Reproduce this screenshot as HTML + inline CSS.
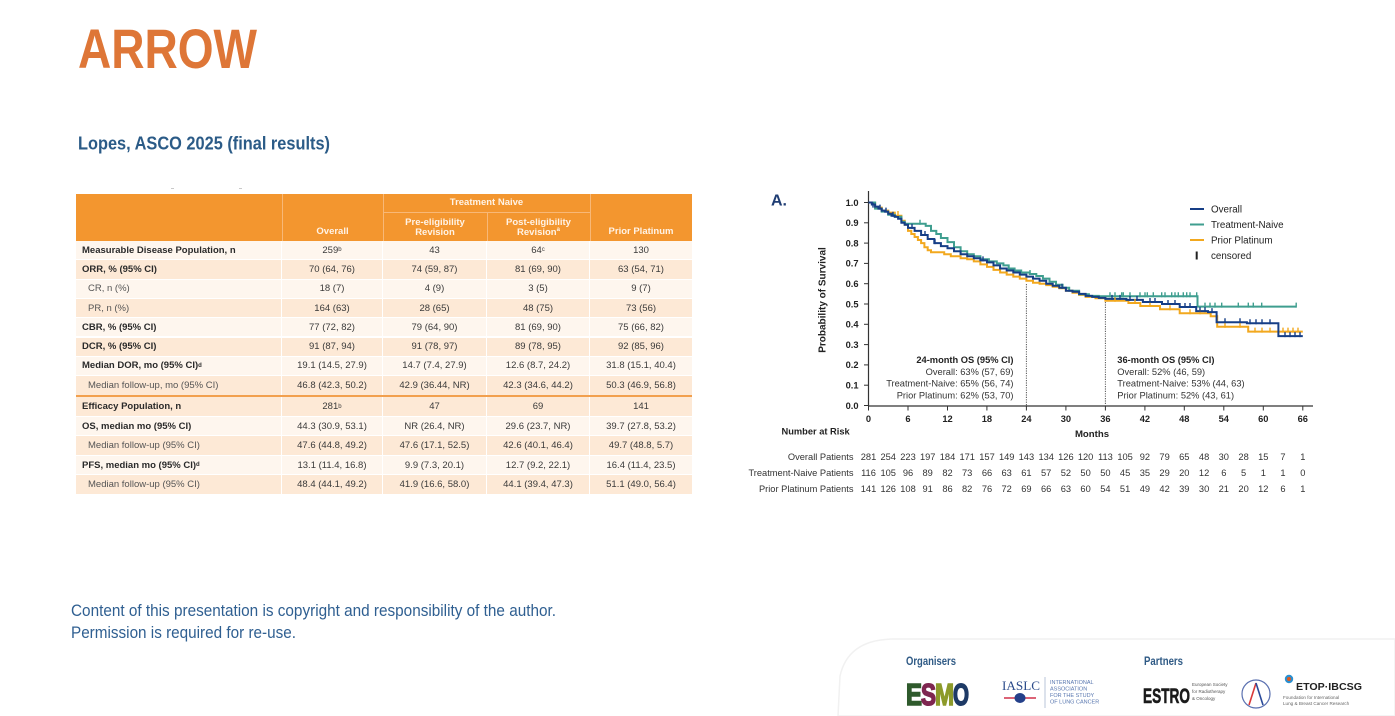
<!DOCTYPE html>
<html>
<head>
<meta charset="utf-8">
<style>
  html,body{margin:0;padding:0;background:#ffffff;}
  body{width:1395px;height:716px;position:relative;overflow:hidden;font-family:"Liberation Sans",Arial,sans-serif;}
  svg.page{position:absolute;left:0;top:0;}
  .tbl{position:absolute;left:76px;top:194px;width:616px;font-family:"Liberation Sans",Arial,sans-serif;font-size:9.5px;color:#3a3a3a;}
  .hdr{position:absolute;left:0;top:0;width:616px;height:47px;background:#f3962f;}
  .hv{position:absolute;width:1px;background:#f8b877;}
  .ht{position:absolute;color:#fff3e6;font-weight:bold;text-align:center;line-height:10px;font-size:9.5px;}
  .row{position:absolute;left:0;width:616px;display:flex;align-items:center;box-sizing:border-box;border-bottom:1px solid #ffffff;}
  .row div{height:100%;display:flex;align-items:center;justify-content:center;box-sizing:border-box;border-right:1px solid #ffffff;white-space:nowrap;}
  .row div.c0{justify-content:flex-start;padding-left:6px;width:206px;}
  .row div.c0.ind{padding-left:12px;color:#555;}
  .row div.b{font-weight:bold;color:#2a2a2a;}
  .c1{width:101px;}.c2{width:104px;}.c3{width:103px;}.c4{width:102px;border-right:none !important;}
  .lt{background:#fef6ee;}
  .pk{background:#fde9d6;}
  sup{font-size:6px;line-height:0;vertical-align:4px;}
</style>
</head>
<body>

<svg class="page" width="1395" height="716" viewBox="0 0 1395 716" xmlns="http://www.w3.org/2000/svg" font-family="Liberation Sans, Arial, sans-serif">
  <!-- Titles -->
  <text x="78" y="68" font-size="56" font-weight="bold" fill="#de7637" textLength="179" lengthAdjust="spacingAndGlyphs">ARROW</text>
  <text x="78" y="149.3" font-size="18" font-weight="bold" fill="#2b5b87" textLength="252" lengthAdjust="spacingAndGlyphs">Lopes, ASCO 2025 (final results)</text>

  <!-- faint marks above table -->
  <line x1="171" y1="188.5" x2="174" y2="188.5" stroke="#bbb" stroke-width="0.8"/>
  <line x1="239" y1="188.5" x2="242" y2="188.5" stroke="#bbb" stroke-width="0.8"/>

  <!-- Footer copyright -->
  <text x="71" y="616" font-size="17" fill="#2f5f91" textLength="485" lengthAdjust="spacingAndGlyphs">Content of this presentation is copyright and responsibility of the author.</text>
  <text x="71" y="638" font-size="17" fill="#2f5f91" textLength="225" lengthAdjust="spacingAndGlyphs">Permission is required for re-use.</text>

  <!-- ===== KM chart ===== -->
  <text x="771" y="205.5" font-size="16" font-weight="bold" fill="#1f3d73">A.</text>

  <text transform="translate(825.5 300) rotate(-90)" text-anchor="middle" font-size="10" font-weight="bold" fill="#222">Probability of Survival</text>

  <line x1="868.5" y1="191" x2="868.5" y2="406" stroke="#333" stroke-width="1.2"/>
  <line x1="868" y1="406" x2="1313" y2="406" stroke="#333" stroke-width="1.2"/>

  <g stroke="#333" stroke-width="1">
    <line x1="864" y1="405.5" x2="868.5" y2="405.5"/>
    <line x1="864" y1="385.2" x2="868.5" y2="385.2"/>
    <line x1="864" y1="364.9" x2="868.5" y2="364.9"/>
    <line x1="864" y1="344.6" x2="868.5" y2="344.6"/>
    <line x1="864" y1="324.3" x2="868.5" y2="324.3"/>
    <line x1="864" y1="304" x2="868.5" y2="304"/>
    <line x1="864" y1="283.7" x2="868.5" y2="283.7"/>
    <line x1="864" y1="263.4" x2="868.5" y2="263.4"/>
    <line x1="864" y1="243.1" x2="868.5" y2="243.1"/>
    <line x1="864" y1="222.8" x2="868.5" y2="222.8"/>
    <line x1="864" y1="202.5" x2="868.5" y2="202.5"/>
  </g>
  <g font-size="9.3" font-weight="bold" fill="#222" text-anchor="end">
    <text x="858.5" y="408.8">0.0</text>
    <text x="858.5" y="388.5">0.1</text>
    <text x="858.5" y="368.2">0.2</text>
    <text x="858.5" y="347.9">0.3</text>
    <text x="858.5" y="327.6">0.4</text>
    <text x="858.5" y="307.3">0.5</text>
    <text x="858.5" y="287">0.6</text>
    <text x="858.5" y="266.7">0.7</text>
    <text x="858.5" y="246.4">0.8</text>
    <text x="858.5" y="226.1">0.9</text>
    <text x="858.5" y="205.8">1.0</text>
  </g>

  <g stroke="#333" stroke-width="1">
    <line x1="868.5" y1="406" x2="868.5" y2="410.5"/>
    <line x1="908" y1="406" x2="908" y2="410.5"/>
    <line x1="947.5" y1="406" x2="947.5" y2="410.5"/>
    <line x1="986.9" y1="406" x2="986.9" y2="410.5"/>
    <line x1="1026.4" y1="406" x2="1026.4" y2="410.5"/>
    <line x1="1065.9" y1="406" x2="1065.9" y2="410.5"/>
    <line x1="1105.4" y1="406" x2="1105.4" y2="410.5"/>
    <line x1="1144.9" y1="406" x2="1144.9" y2="410.5"/>
    <line x1="1184.3" y1="406" x2="1184.3" y2="410.5"/>
    <line x1="1223.8" y1="406" x2="1223.8" y2="410.5"/>
    <line x1="1263.3" y1="406" x2="1263.3" y2="410.5"/>
    <line x1="1302.8" y1="406" x2="1302.8" y2="410.5"/>
  </g>
  <g font-size="9.3" font-weight="bold" fill="#222" text-anchor="middle">
    <text x="868.5" y="421.8">0</text>
    <text x="908" y="421.8">6</text>
    <text x="947.5" y="421.8">12</text>
    <text x="986.9" y="421.8">18</text>
    <text x="1026.4" y="421.8">24</text>
    <text x="1065.9" y="421.8">30</text>
    <text x="1105.4" y="421.8">36</text>
    <text x="1144.9" y="421.8">42</text>
    <text x="1184.3" y="421.8">48</text>
    <text x="1223.8" y="421.8">54</text>
    <text x="1263.3" y="421.8">60</text>
    <text x="1302.8" y="421.8">66</text>
  </g>
  <text x="1092" y="437" font-size="9.6" font-weight="bold" fill="#222" text-anchor="middle">Months</text>
  <text x="781.5" y="434.5" font-size="9.3" font-weight="bold" fill="#222">Number at Risk</text>

  <line x1="1026.4" y1="284" x2="1026.4" y2="406" stroke="#555" stroke-width="1" stroke-dasharray="1.2,1.2"/>
  <line x1="1105.4" y1="302" x2="1105.4" y2="406" stroke="#555" stroke-width="1" stroke-dasharray="1.2,1.2"/>

  <g fill="none" stroke-width="2" stroke-linejoin="miter">
    <path stroke="#f2a81e" d="M868.5,202.5 H875.1 V207.6 H881.7 V210.6 H888.2 V212.6 H894.8 V215.7 H901.4 V220.8 H904.7 V224.8 H908 V230.9 H911.3 V234 H914.6 V237 H917.9 V240 H921.1 V243.1 H924.4 V247.2 H927.7 V250.2 H931 V252.2 H944.2 V254.3 H950.8 V256.3 H960.6 V258.3 H967.2 V259.3 H973.8 V261.4 H980.4 V264.4 H987 V266.9 H993.5 V269.9 H1000.1 V272.5 H1006.7 V274.6 H1013.3 V276.6 H1019.8 V278.6 H1026.4 V280.7 H1033 V282.7 H1039.6 V283.7 H1046.2 V285.1 H1052.7 V286.7 H1059.3 V288.2 H1065.9 V290.8 H1072.5 V292.8 H1079.1 V294.9 H1085.6 V296.9 H1095.5 V298.3 H1105.4 V300.8 H1128.4 V303 H1140.3 V306 H1160 V309.3 H1179.7 V313.3 H1210.7 V316.2 H1217.2 V326.7 H1248.2 V331.6 H1302.8"/>
    <path stroke="#3f9e8f" d="M868.5,202.5 H875.1 V208.6 H881.7 V211.6 H888.2 V214.7 H894.8 V216.7 H901.4 V221.8 H904.7 V223.8 H925.7 V225.9 H931 V230.9 H936.3 V234 H940.9 V238 H947.5 V242.1 H954 V247.2 H960.6 V251.2 H967.2 V254.3 H973.8 V256.3 H980.4 V259.3 H988.9 V261.4 H996.8 V263.4 H1003.4 V265.4 H1008.7 V268.5 H1014.6 V270.5 H1021.2 V272.5 H1029.7 V274 H1036.3 V276 H1042.9 V278.6 H1049.5 V281.7 H1056 V284.7 H1062.6 V287.8 H1069.2 V290.8 H1079.1 V294.3 H1088.9 V295.9 H1098.8 V296.3 H1197.5 V306.6 H1296.2"/>
    <path stroke="#163e86" d="M868.5,202.5 H871.8 V204.5 H875.1 V206.6 H878.4 V208.6 H881.7 V210.6 H885 V211.6 H888.2 V213.7 H891.5 V215.7 H894.8 V216.7 H898.1 V218.7 H901.4 V222.8 H904.7 V224.8 H908 V227.9 H914.6 V230.9 H921.1 V235 H927.7 V239 H934.3 V243.1 H940.9 V246.1 H947.5 V248.2 H954 V251.2 H960.6 V254.3 H967.2 V256.3 H973.8 V258.3 H980.4 V260.4 H987 V262.4 H993.5 V265.4 H1000.1 V268.5 H1006.7 V270.5 H1013.3 V272.5 H1019.8 V274.6 H1026.4 V276.6 H1033 V278.6 H1039.6 V280.7 H1046.2 V283.7 H1052.7 V285.7 H1059.3 V287.8 H1065.9 V290.8 H1072.5 V291.8 H1079.1 V293.9 H1085.6 V295.9 H1092.2 V296.9 H1098.8 V297.9 H1105.4 V298.9 H1126.4 V299.9 H1142.9 V302 H1162 V304 H1179.7 V307 H1196.2 V311.1 H1208 V312.1 H1216.6 V322.3 H1246.9 V323.3 H1278.4 V336.1 H1302.8"/>
  </g>

  <path stroke="#f2a81e" stroke-width="1.4" fill="none" d="M898,211v5 M1115,296.8v5 M1135,299v5 M1150,302v5 M1170,305.3v5 M1190,309.3v5 M1200,309.3v5 M1225,322.7v5 M1240,322.7v5 M1255,327.6v5 M1262,327.6v5 M1270,327.6v5 M1283,327.6v5 M1288,327.6v5 M1293,327.6v5 M1298,327.6v5"/>
  <path stroke="#3f9e8f" stroke-width="1.4" fill="none" d="M920,219.8v5 M1030,270v5 M1110,292.3v5 M1115,292.3v5 M1121.7,292.3v5 M1123.3,292.3v5 M1130,292.3v5 M1140,292.3v5 M1145,292.3v5 M1147.3,292.3v5 M1153.3,292.3v5 M1161.7,292.3v5 M1165,292.3v5 M1171.7,292.3v5 M1175,292.3v5 M1178.3,292.3v5 M1183.3,292.3v5 M1186.7,292.3v5 M1190,292.3v5 M1196.7,292.3v5 M1205,302.6v5 M1210,302.6v5 M1215,302.6v5 M1221.7,302.6v5 M1238.3,302.6v5 M1248.3,302.6v5 M1253.3,302.6v5 M1261.7,302.6v5 M1296.2,302.6v5"/>
  <path stroke="#163e86" stroke-width="1.4" fill="none" d="M873,202.6v5 M880,204.6v5 M886,207.6v5 M893,211.7v5 M912,223.9v5 M925,231v5 M935,239.1v5 M983,256.4v5 M1000,264.5v5 M1062,283.8v5 M1112,294.9v5 M1120,294.9v5 M1130,295.9v5 M1137,295.9v5 M1150,298v5 M1155,298v5 M1168,300v5 M1175,300v5 M1185,303v5 M1190,303v5 M1200,307.1v5 M1205,307.1v5 M1212,308.1v5 M1225,318.3v5 M1240,318.3v5 M1250,319.3v5 M1256,319.3v5 M1262,319.3v5 M1270,319.3v5 M1285,332.1v5 M1290,332.1v5 M1295,332.1v5 M1300,332.1v5"/>

  <line x1="1190" y1="209" x2="1204" y2="209" stroke="#163e86" stroke-width="2"/>
  <line x1="1190" y1="224.5" x2="1204" y2="224.5" stroke="#3f9e8f" stroke-width="2"/>
  <line x1="1190" y1="240" x2="1204" y2="240" stroke="#f2a81e" stroke-width="2"/>
  <line x1="1196.7" y1="251.5" x2="1196.7" y2="259.5" stroke="#222" stroke-width="2"/>
  <g font-size="9.8" fill="#222">
    <text x="1211" y="212.5">Overall</text>
    <text x="1211" y="228">Treatment-Naive</text>
    <text x="1211" y="243.5">Prior Platinum</text>
    <text x="1211" y="259">censored</text>
  </g>

  <g font-size="9.3" fill="#333" text-anchor="end">
    <text x="1013.5" y="362.9" font-weight="bold" fill="#222">24-month OS (95% CI)</text>
    <text x="1013.5" y="374.9">Overall: 63% (57, 69)</text>
    <text x="1013.5" y="386.7">Treatment-Naive: 65% (56, 74)</text>
    <text x="1013.5" y="398.7">Prior Platinum: 62% (53, 70)</text>
  </g>
  <g font-size="9.3" fill="#333">
    <text x="1117.3" y="362.9" font-weight="bold" fill="#222">36-month OS (95% CI)</text>
    <text x="1117.3" y="374.9">Overall: 52% (46, 59)</text>
    <text x="1117.3" y="386.7">Treatment-Naive: 53% (44, 63)</text>
    <text x="1117.3" y="398.7">Prior Platinum: 52% (43, 61)</text>
  </g>

  <g font-size="9.3" fill="#333" text-anchor="end">
    <text x="853.5" y="459.8">Overall Patients</text>
    <text x="853.5" y="475.8">Treatment-Naive Patients</text>
    <text x="853.5" y="491.8">Prior Platinum Patients</text>
  </g>
  <g font-size="9.3" fill="#333" text-anchor="middle">
    <text y="459.8"><tspan x="868.5">281</tspan><tspan x="888.2">254</tspan><tspan x="908">223</tspan><tspan x="927.7">197</tspan><tspan x="947.5">184</tspan><tspan x="967.2">171</tspan><tspan x="987">157</tspan><tspan x="1006.7">149</tspan><tspan x="1026.4">143</tspan><tspan x="1046.2">134</tspan><tspan x="1065.9">126</tspan><tspan x="1085.6">120</tspan><tspan x="1105.4">113</tspan><tspan x="1125.1">105</tspan><tspan x="1144.9">92</tspan><tspan x="1164.6">79</tspan><tspan x="1184.3">65</tspan><tspan x="1204.1">48</tspan><tspan x="1223.8">30</tspan><tspan x="1243.6">28</tspan><tspan x="1263.3">15</tspan><tspan x="1283">7</tspan><tspan x="1302.8">1</tspan></text>
    <text y="475.8"><tspan x="868.5">116</tspan><tspan x="888.2">105</tspan><tspan x="908">96</tspan><tspan x="927.7">89</tspan><tspan x="947.5">82</tspan><tspan x="967.2">73</tspan><tspan x="987">66</tspan><tspan x="1006.7">63</tspan><tspan x="1026.4">61</tspan><tspan x="1046.2">57</tspan><tspan x="1065.9">52</tspan><tspan x="1085.6">50</tspan><tspan x="1105.4">50</tspan><tspan x="1125.1">45</tspan><tspan x="1144.9">35</tspan><tspan x="1164.6">29</tspan><tspan x="1184.3">20</tspan><tspan x="1204.1">12</tspan><tspan x="1223.8">6</tspan><tspan x="1243.6">5</tspan><tspan x="1263.3">1</tspan><tspan x="1283">1</tspan><tspan x="1302.8">0</tspan></text>
    <text y="491.8"><tspan x="868.5">141</tspan><tspan x="888.2">126</tspan><tspan x="908">108</tspan><tspan x="927.7">91</tspan><tspan x="947.5">86</tspan><tspan x="967.2">82</tspan><tspan x="987">76</tspan><tspan x="1006.7">72</tspan><tspan x="1026.4">69</tspan><tspan x="1046.2">66</tspan><tspan x="1065.9">63</tspan><tspan x="1085.6">60</tspan><tspan x="1105.4">54</tspan><tspan x="1125.1">51</tspan><tspan x="1144.9">49</tspan><tspan x="1164.6">42</tspan><tspan x="1184.3">39</tspan><tspan x="1204.1">30</tspan><tspan x="1223.8">21</tspan><tspan x="1243.6">20</tspan><tspan x="1263.3">12</tspan><tspan x="1283">6</tspan><tspan x="1302.8">1</tspan></text>
  </g>

  <!-- ===== Footer panel ===== -->
  <path d="M838,716 L840,676 Q848,640 892,639 L1395,639 L1395,716 Z" fill="#ffffff" stroke="#f1f1f1" stroke-width="1.5"/>

  <text x="906" y="665" font-size="11.5" font-weight="bold" fill="#2f5a85" textLength="50" lengthAdjust="spacingAndGlyphs">Organisers</text>
  <text x="1144" y="665" font-size="11.5" font-weight="bold" fill="#2f5a85" textLength="39" lengthAdjust="spacingAndGlyphs">Partners</text>

  <!-- ESMO -->
  <g font-weight="bold" font-size="31" stroke-width="1.6">
    <text x="906" y="705" fill="#2f5a2c" stroke="#2f5a2c" textLength="16" lengthAdjust="spacingAndGlyphs">E</text>
    <text x="921" y="705" fill="#7e2650" stroke="#7e2650" textLength="15" lengthAdjust="spacingAndGlyphs">S</text>
    <text x="935" y="705" fill="#8c9a2a" stroke="#8c9a2a" textLength="19" lengthAdjust="spacingAndGlyphs">M</text>
    <text x="953" y="705" fill="#1e3a66" stroke="#1e3a66" textLength="16" lengthAdjust="spacingAndGlyphs">O</text>
  </g>

  <!-- IASLC -->
  <text x="1002" y="690" font-family="Liberation Serif, serif" font-size="13" fill="#2a4a8a" textLength="38" lengthAdjust="spacingAndGlyphs">IASLC</text>
  <line x1="1004" y1="698" x2="1036" y2="698" stroke="#d0304a" stroke-width="1.5"/>
  <ellipse cx="1020" cy="698" rx="5.5" ry="5" fill="#24408a"/>
  <line x1="1045" y1="677" x2="1045" y2="708" stroke="#a9b8d0" stroke-width="0.8"/>
  <g font-size="5.5" fill="#5a78b0">
    <text x="1050" y="684">INTERNATIONAL</text>
    <text x="1050" y="690.5">ASSOCIATION</text>
    <text x="1050" y="697">FOR THE STUDY</text>
    <text x="1050" y="703.5">OF LUNG CANCER</text>
  </g>

  <!-- ESTRO -->
  <text x="1143" y="703" font-size="21" font-weight="bold" fill="#1a1a1a" stroke="#1a1a1a" stroke-width="0.6" textLength="47" lengthAdjust="spacingAndGlyphs">ESTRO</text>
  <g font-size="4.5" fill="#555">
    <text x="1192" y="686">European Society</text>
    <text x="1192" y="693">for Radiotherapy</text>
    <text x="1192" y="700">&amp; Oncology</text>
  </g>

  <!-- emblem -->
  <circle cx="1256" cy="694" r="14" fill="none" stroke="#5a70b0" stroke-width="1.2"/>
  <path d="M1256,683 L1249,705" stroke="#d83a3a" stroke-width="1.6" fill="none"/>
  <path d="M1256,683 L1263,705" stroke="#2a4a9a" stroke-width="1.6" fill="none"/>

  <!-- ETOP IBCSG -->
  <circle cx="1289" cy="679" r="4.2" fill="#2a8fd0"/>
  <circle cx="1289" cy="679" r="2" fill="#e05a20"/>
  <text x="1296" y="690" font-size="10.5" font-weight="bold" fill="#222" textLength="66" lengthAdjust="spacingAndGlyphs">ETOP·IBCSG</text>
  <g font-size="4.6" fill="#666">
    <text x="1283" y="699">Foundation for International</text>
    <text x="1283" y="705">Lung &amp; Breast Cancer Research</text>
  </g>
</svg>

<!-- ===== Table ===== -->
<div class="tbl">
  <div class="hdr">
    <div class="hv" style="left:206px;top:0;height:47px;"></div>
    <div class="hv" style="left:307px;top:0;height:47px;"></div>
    <div class="hv" style="left:411px;top:18px;height:29px;"></div>
    <div class="hv" style="left:514px;top:0;height:47px;"></div>
    <div style="position:absolute;left:307px;top:17.5px;width:207px;height:1px;background:#f8b877;"></div>
    <div class="ht" style="left:307px;top:4px;width:207px;">Treatment Naive</div>
    <div class="ht" style="left:206px;top:33px;width:101px;">Overall</div>
    <div class="ht" style="left:307px;top:24px;width:104px;">Pre-eligibility<br>Revision</div>
    <div class="ht" style="left:411px;top:24px;width:103px;">Post-eligibility<br>Revision<sup>a</sup></div>
    <div class="ht" style="left:514px;top:33px;width:102px;">Prior Platinum</div>
  </div>

  <div class="row lt" style="top:47px;height:19.3px;"><div class="c0 b">Measurable Disease Population, n</div><div class="c1">259<sup>b</sup></div><div class="c2">43</div><div class="c3">64<sup>c</sup></div><div class="c4">130</div></div>
  <div class="row pk" style="top:66.3px;height:19.3px;"><div class="c0 b">ORR, % (95% CI)</div><div class="c1">70 (64, 76)</div><div class="c2">74 (59, 87)</div><div class="c3">81 (69, 90)</div><div class="c4">63 (54, 71)</div></div>
  <div class="row lt" style="top:85.6px;height:19.3px;"><div class="c0 ind">CR, n (%)</div><div class="c1">18 (7)</div><div class="c2">4 (9)</div><div class="c3">3 (5)</div><div class="c4">9 (7)</div></div>
  <div class="row pk" style="top:104.9px;height:19.3px;"><div class="c0 ind">PR, n (%)</div><div class="c1">164 (63)</div><div class="c2">28 (65)</div><div class="c3">48 (75)</div><div class="c4">73 (56)</div></div>
  <div class="row lt" style="top:124.2px;height:19.3px;"><div class="c0 b">CBR, % (95% CI)</div><div class="c1">77 (72, 82)</div><div class="c2">79 (64, 90)</div><div class="c3">81 (69, 90)</div><div class="c4">75 (66, 82)</div></div>
  <div class="row pk" style="top:143.5px;height:19.3px;"><div class="c0 b">DCR, % (95% CI)</div><div class="c1">91 (87, 94)</div><div class="c2">91 (78, 97)</div><div class="c3">89 (78, 95)</div><div class="c4">92 (85, 96)</div></div>
  <div class="row lt" style="top:162.8px;height:19.3px;"><div class="c0 b">Median DOR, mo (95% CI)<sup>d</sup></div><div class="c1">19.1 (14.5, 27.9)</div><div class="c2">14.7 (7.4, 27.9)</div><div class="c3">12.6 (8.7, 24.2)</div><div class="c4">31.8 (15.1, 40.4)</div></div>
  <div class="row pk" style="top:182.1px;height:19.3px;border-bottom:none;"><div class="c0 ind">Median follow-up, mo (95% CI)</div><div class="c1">46.8 (42.3, 50.2)</div><div class="c2">42.9 (36.44, NR)</div><div class="c3">42.3 (34.6, 44.2)</div><div class="c4">50.3 (46.9, 56.8)</div></div>
  <div style="position:absolute;left:0;top:201.4px;width:616px;height:2px;background:#f2a04e;"></div>
  <div class="row pk" style="top:203.4px;height:19.5px;"><div class="c0 b">Efficacy Population, n</div><div class="c1">281<sup>b</sup></div><div class="c2">47</div><div class="c3">69</div><div class="c4">141</div></div>
  <div class="row lt" style="top:222.9px;height:19.5px;"><div class="c0 b">OS, median mo (95% CI)</div><div class="c1">44.3 (30.9, 53.1)</div><div class="c2">NR (26.4, NR)</div><div class="c3">29.6 (23.7, NR)</div><div class="c4">39.7 (27.8, 53.2)</div></div>
  <div class="row pk" style="top:242.4px;height:19.5px;"><div class="c0 ind">Median follow-up (95% CI)</div><div class="c1">47.6 (44.8, 49.2)</div><div class="c2">47.6 (17.1, 52.5)</div><div class="c3">42.6 (40.1, 46.4)</div><div class="c4">49.7 (48.8, 5.7)</div></div>
  <div class="row lt" style="top:261.9px;height:19.5px;"><div class="c0 b">PFS, median mo (95% CI)<sup>d</sup></div><div class="c1">13.1 (11.4, 16.8)</div><div class="c2">9.9 (7.3, 20.1)</div><div class="c3">12.7 (9.2, 22.1)</div><div class="c4">16.4 (11.4, 23.5)</div></div>
  <div class="row pk" style="top:281.4px;height:19.5px;"><div class="c0 ind">Median follow-up (95% CI)</div><div class="c1">48.4 (44.1, 49.2)</div><div class="c2">41.9 (16.6, 58.0)</div><div class="c3">44.1 (39.4, 47.3)</div><div class="c4">51.1 (49.0, 56.4)</div></div>
</div>

</body>
</html>
